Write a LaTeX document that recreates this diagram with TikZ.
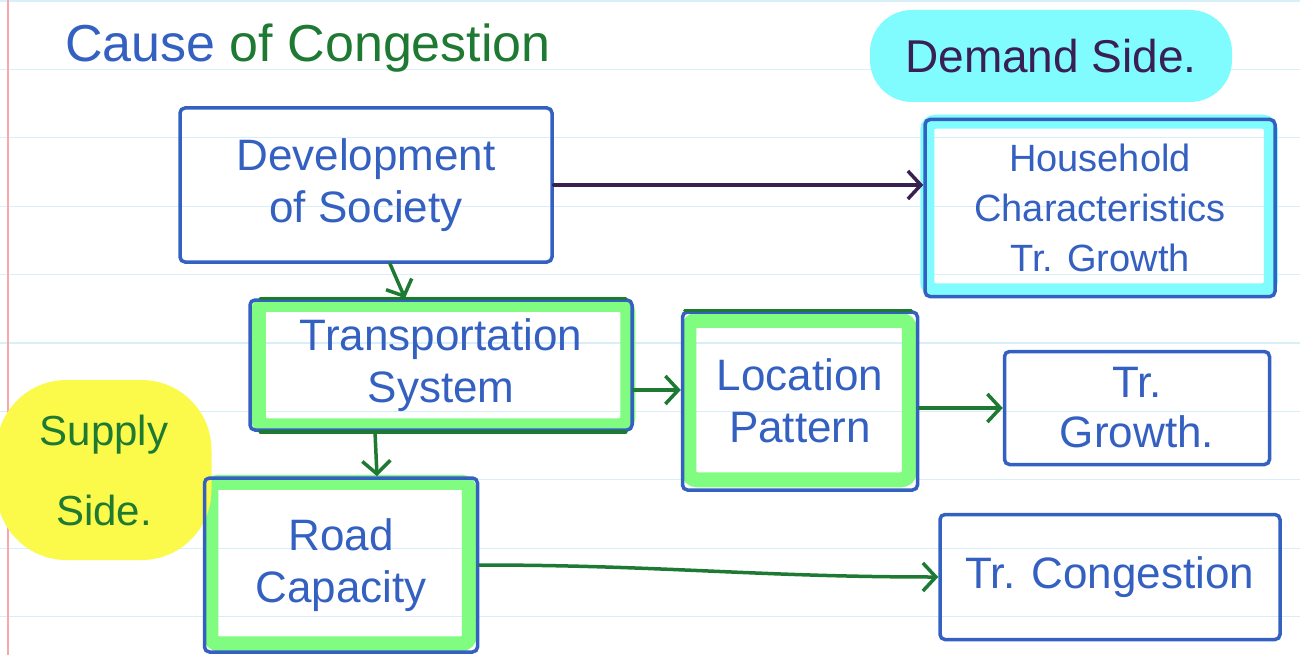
\documentclass[tikz,border=0pt]{standalone}
\usepackage{fontspec}
\setmainfont{Liberation Sans}
\usetikzlibrary{arrows.meta}
\definecolor{ink}{HTML}{3461C1}
\definecolor{gink}{HTML}{1E7A32}
\definecolor{pink}{HTML}{3A1F52}
\definecolor{hlc}{HTML}{80FCFF}
\definecolor{hlg}{HTML}{80FC80}
\definecolor{hly}{HTML}{FBF94A}
\definecolor{rulec}{HTML}{D8EEF8}
\definecolor{marginc}{HTML}{F8A8A8}
\pgfdeclarelayer{paper}\pgfdeclarelayer{hl}\pgfsetlayers{paper,hl,main}
\begin{document}
\begin{tikzpicture}[x=1pt,y=-1pt,
  box/.style={draw=ink, line width=3.5pt, rounded corners=5pt, rectangle, text=ink, align=center, inner sep=2pt},
  boxtext/.style={font=\fontsize{44}{52}\selectfont},
  link/.style={line width=3.5pt, line cap=round, -{Straight Barb[length=13pt,width=28pt,line width=3.5pt]}},
  glink/.style={link, draw=gink},
  plink/.style={link, draw=pink},
  hlgreen/.style={draw=hlg, line width=15pt, rounded corners=8pt},
  hlcyan/.style={draw=hlc, line width=14pt, rounded corners=8pt},
  rule/.style={draw=rulec, line width=1.2pt}
]
\useasboundingbox (0,0) rectangle (1300,655);
\begin{pgfonlayer}{paper}
  \fill[white] (0,0) rectangle (1300,655);
  \foreach \i in {0,...,9} \draw[rule] (0,{1+68.4*\i}) -- (1300,{1+68.4*\i});
  \draw[draw=marginc, line width=1.5pt] (8,0) -- (8,655);
\end{pgfonlayer}

% title
\node[text=gink, font=\fontsize{52}{56}\selectfont] (title) at (308,48) {{\color{ink}Cause} of Congestion};

% demand side label
\node[fill=hlc, rounded corners=42pt, minimum width=362pt, minimum height=92pt, text=pink,
      font=\fontsize{46}{52}\selectfont] (demand) at (1051,56) {Demand Side.};

% supply side label
\node[fill=hly, rounded corners=70pt, minimum width=215pt, minimum height=180pt, text=gink,
      font=\fontsize{42}{80}\selectfont, align=center] (supply) at (104,470) {Supply\\Side.};

% boxes
\node[box, boxtext, minimum width=372pt, minimum height=154pt] (dev) at (366,185) {Development\\of Society};
\node[box, font=\fontsize{38}{50}\selectfont, minimum width=350pt, minimum height=177pt] (house) at (1100,208) {Household\\Characteristics\\Tr. Growth};
\node[box, boxtext, minimum width=382pt, minimum height=130pt] (trans) at (441,365) {Transportation\\System};
\node[box, boxtext, minimum width=235pt, minimum height=178pt] (loc) at (800,401) {Location\\Pattern};
\node[box, font=\fontsize{44}{50}\selectfont, minimum width=265pt, minimum height=113pt] (tg) at (1137,408) {Tr.\\Growth.};
\node[box, boxtext, minimum width=273pt, minimum height=174pt] (road) at (341,565) {Road\\Capacity};
\node[box, boxtext, minimum width=340pt, minimum height=125pt] (cong) at (1110,577) {Tr. Congestion};

% green top/bottom strokes
\draw[gink, line width=3.5pt, line cap=round] ([xshift=12pt]trans.north west) -- ([xshift=-8pt]trans.north east);
\draw[gink, line width=3.5pt, line cap=round] ([xshift=12pt]trans.south west) -- ([xshift=-8pt]trans.south east);
\draw[gink, line width=3.5pt, line cap=round] ([xshift=4pt]loc.north west) -- ([xshift=-8pt]loc.north east);

% highlights
\begin{pgfonlayer}{hl}
  \draw[hlgreen] ([shift={(10pt,-6pt)}]trans.north west) rectangle ([shift={(-6pt,6pt)}]trans.south east);
  \draw[hlgreen] ([shift={(8pt,-10pt)}]loc.north west) rectangle ([shift={(-10pt,12pt)}]loc.south east);
  \draw[hlgreen] ([shift={(8pt,-6pt)}]road.north west) rectangle ([shift={(-10pt,10pt)}]road.south east);
  \draw[hlcyan] ([shift={(4pt,-4pt)}]house.north west) rectangle ([shift={(-6pt,8pt)}]house.south east);
\end{pgfonlayer}

% connectors
\draw[plink] (dev.east) -- (dev.east -| house.west);
\draw[glink] ([xshift=24pt]dev.south) -- ([xshift=-36pt]trans.north);
\draw[glink] ([yshift=-25pt]trans.east) -- ([yshift=-25pt]trans.east -| loc.west);
\draw[glink] (loc.east |- tg.west) -- (tg.west);
\draw[glink] ([xshift=-66pt]trans.south) -- ([xshift=36pt]road.north);
\draw[glink] (road.east) to[out=0,in=180] (cong.west);
\end{tikzpicture}
\end{document}
